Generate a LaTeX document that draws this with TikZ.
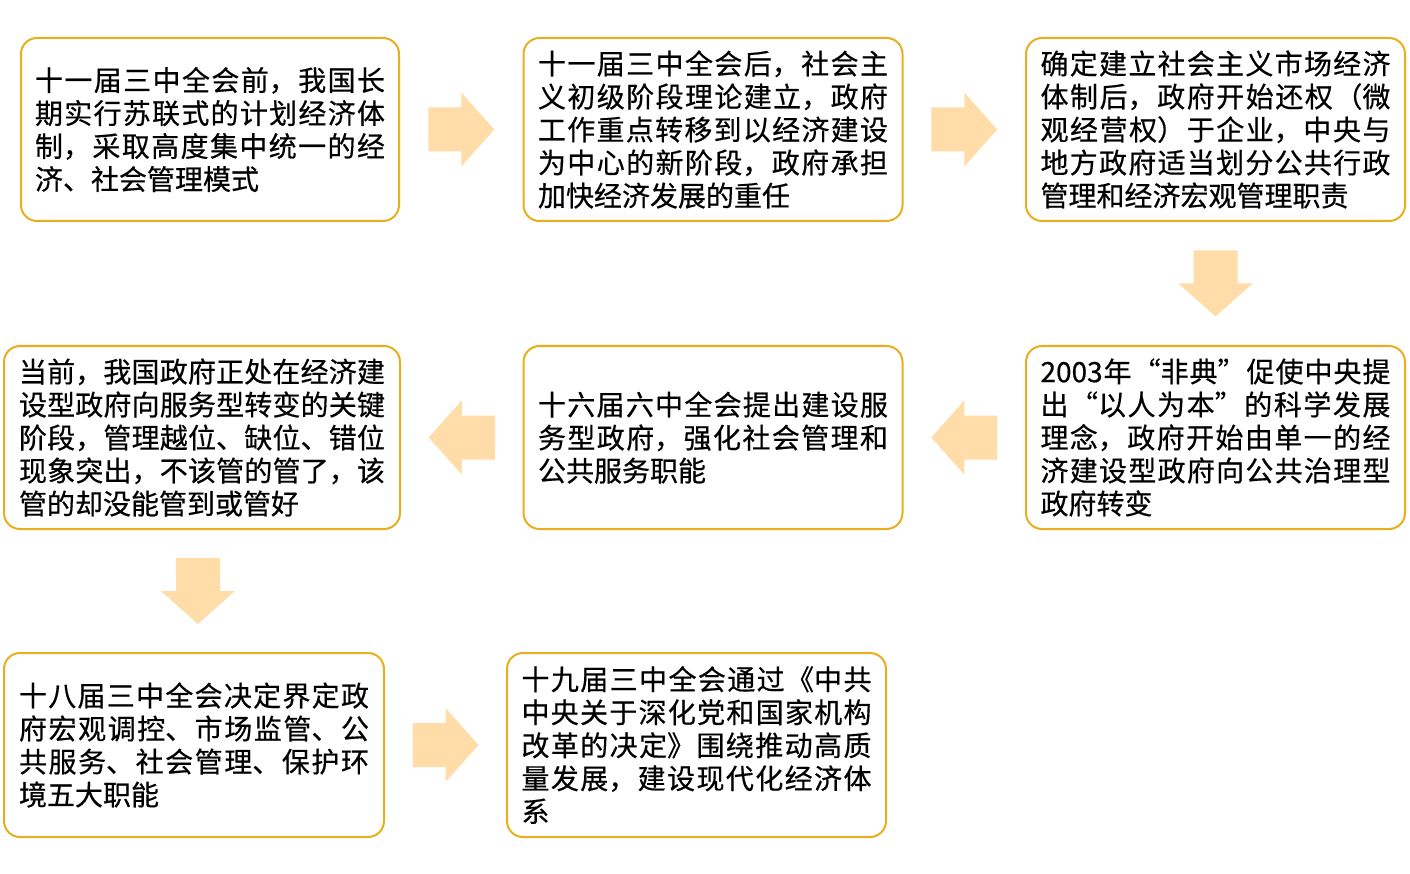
\documentclass[tikz,border=0pt]{standalone}
\usepackage{fontspec}
\usepackage{xcolor}
\usetikzlibrary{calc}
\newfontfamily\cjk[FakeBold=0.5]{Noto Sans CJK SC}
\XeTeXlinebreaklocale "zh"
\XeTeXlinebreakskip=0pt plus 3pt
\definecolor{stageline}{RGB}{232,174,30}
\definecolor{arrowfill}{RGB}{255,220,168}
\tikzset{
  flowarrow/.pic={\fill[arrowfill] (-33,-22) -- (0,-22) -- (0,-37) -- (33,0) -- (0,37) -- (0,22) -- (-33,22) -- cycle;}
}

\begin{document}
\begin{tikzpicture}[x=1pt, y=-1pt]
  \tikzstyle{stage}=[rectangle, draw=stageline, line width=2pt, rounded corners=16pt, minimum width=379pt, minimum height=183pt, text width=350pt, inner sep=0pt, align=justify, font=\cjk\fontsize{28}{33}\selectfont]
  \useasboundingbox (0,0) rectangle (1410,874);

  \node[stage, minimum width=378pt] (s1) at (210,129.5) {十一届三中全会前，我国长\linebreak 期实行苏联式的计划经济体\linebreak 制，采取高度集中统一的经\linebreak 济、社会管理模式};
  \node[stage] (s2) at (713,129.5) {十一届三中全会后，社会主\linebreak 义初级阶段理论建立，政府\linebreak 工作重点转移到以经济建设\linebreak 为中心的新阶段，政府承担\linebreak 加快经济发展的重任};
  \node[stage] (s3) at (1215.5,129.5) {确定建立社会主义市场经济\linebreak 体制后，政府开始还权（微\linebreak 观经营权）于企业，中央与\linebreak 地方政府适当划分公共行政\linebreak 管理和经济宏观管理职责};
  \node[stage] (s4) at (1215.5,437.5) {2003年“非典”促使中央提\linebreak 出“以人为本”的科学发展\linebreak 理念，政府开始由单一的经\linebreak 济建设型政府向公共治理型\linebreak 政府转变};
  \node[stage] (s5) at (713,437.5) {十六届六中全会提出建设服\linebreak 务型政府，强化社会管理和\linebreak 公共服务职能};
  \node[stage, minimum width=396pt, text width=366pt] (s6) at (202,437.5) {当前，我国政府正处在经济建\linebreak 设型政府向服务型转变的关键\linebreak 阶段，管理越位、缺位、错位\linebreak 现象突出，不该管的管了，该\linebreak 管的却没能管到或管好};
  \node[stage, minimum width=380pt, minimum height=184pt] (s7) at (194,745) {十八届三中全会决定界定政\linebreak 府宏观调控、市场监管、公\linebreak 共服务、社会管理、保护环\linebreak 境五大职能};
  \node[stage, minimum height=184pt] (s8) at (696.5,745) {十九届三中全会通过《中共\linebreak 中央关于深化党和国家机构\linebreak 改革的决定》围绕推动高质\linebreak 量发展，建设现代化经济体\linebreak 系};

  % arrows between stages
  \pic at ($(s1.east)!0.5!(s2.west)$) {flowarrow};
  \pic at ($(s2.east)!0.5!(s3.west)$) {flowarrow};
  \pic[rotate=-90] at ($(s3.south)!0.5!(s4.north)$) {flowarrow};
  \pic[rotate=180] at ($(s4.west)!0.5!(s5.east)$) {flowarrow};
  \pic[rotate=180] at ($(s5.west)!0.5!(s6.east)$) {flowarrow};
  \pic[rotate=-90] at ($(s6.south)!0.5!(s7.north)$) {flowarrow};
  \pic at ($(s7.east)!0.5!(s8.west)$) {flowarrow};
\end{tikzpicture}
\end{document}
